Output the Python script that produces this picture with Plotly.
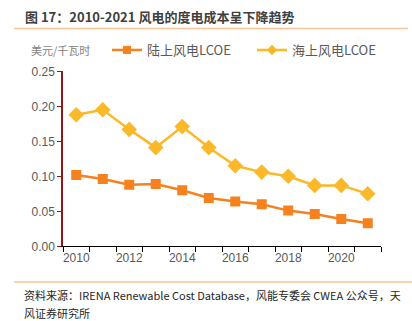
import plotly.graph_objects as go

years = list(range(2010, 2022))
onshore = [0.102, 0.096, 0.088, 0.089, 0.080, 0.069, 0.064, 0.060, 0.051, 0.046, 0.039, 0.033]
offshore = [0.188, 0.195, 0.167, 0.141, 0.171, 0.141, 0.115, 0.106, 0.100, 0.087, 0.087, 0.075]
xtick_vals = [2010, 2012, 2014, 2016, 2018, 2020]
ytick_vals = [0.0, 0.05, 0.10, 0.15, 0.20, 0.25]
names = ["陆上风电LCOE", "海上风电LCOE"]
colors = ["#F5821F", "#FBB829"]

W, H = 412, 321
CJK = "Noto Sans CJK SC"

fig = go.Figure()
fig.add_trace(go.Scatter(
    x=years, y=onshore, name=names[0], mode="lines+markers", showlegend=False,
    line=dict(color=colors[0], width=2.5),
    marker=dict(symbol="square", size=10, color=colors[0]),
))
fig.add_trace(go.Scatter(
    x=years, y=offshore, name=names[1], mode="lines+markers", showlegend=False,
    line=dict(color=colors[1], width=2.5),
    marker=dict(symbol="diamond", size=12, color=colors[1]),
))
# legend-only entries with small markers
fig.add_trace(go.Scatter(
    x=[None], y=[None], name=names[0], mode="lines+markers", legend="legend",
    line=dict(color=colors[0], width=2.5),
    marker=dict(symbol="square", size=8, color=colors[0]),
))
fig.add_trace(go.Scatter(
    x=[None], y=[None], name=names[1], mode="lines+markers", legend="legend2",
    line=dict(color=colors[1], width=2.5),
    marker=dict(symbol="diamond", size=8, color=colors[1]),
))

def px(x):
    return x / W

def py(y):
    return 1 - y / H

legend_common = dict(
    orientation="h", y=py(50), xanchor="left", yanchor="middle",
    font=dict(size=13, color="#595959", family=CJK),
    bgcolor="rgba(0,0,0,0)", itemwidth=30,
)

fig.update_layout(
    width=W, height=H,
    margin=dict(l=0, r=0, t=0, b=0, pad=0, autoexpand=False),
    paper_bgcolor="white", plot_bgcolor="white",
    font=dict(family=CJK, color="#595959"),
    showlegend=True,
    legend=dict(x=px(107), **legend_common),
    legend2=dict(x=px(252), **legend_common),
    xaxis=dict(
        domain=[px(63), px(381)], range=[2009.5, 2021.5], automargin=False,
        tickvals=xtick_vals, ticks="", showgrid=False, zeroline=False,
        showline=True, linecolor="#000000", linewidth=1,
        tickfont=dict(size=12, color="#595959", family="Liberation Sans"),
        minor=dict(tick0=2009.5, dtick=1, ticks="outside", ticklen=5,
                   tickcolor="#000000", showgrid=False),
        fixedrange=True,
    ),
    yaxis=dict(
        domain=[py(246.3), py(71.3)], range=[0, 0.25], automargin=False,
        tickvals=ytick_vals, tickformat=".2f", ticks="outside", ticklen=4,
        tickcolor="#8B1A1A", showline=True, linecolor="#8B1A1A", linewidth=1.5,
        showgrid=False, zeroline=False,
        tickfont=dict(size=12, color="#595959", family="Liberation Sans"),
        fixedrange=True,
    ),
)

# title
fig.add_annotation(
    text="<b>图 17：2010-2021 风电的度电成本呈下降趋势</b>",
    xref="paper", yref="paper", x=px(23), y=py(16), xanchor="left", yanchor="middle",
    showarrow=False, font=dict(size=13, color="#404040", family=CJK),
)
fig.add_shape(type="line", xref="paper", yref="paper",
              x0=px(14), x1=px(408), y0=py(28.5), y1=py(28.5),
              line=dict(color="#F8C49A", width=1.5))
# unit label
fig.add_annotation(
    text="美元/千瓦时", xref="paper", yref="paper", x=px(29), y=py(50),
    xanchor="left", yanchor="middle", showarrow=False,
    font=dict(size=11, color="#7F7F7F", family=CJK),
)
# footer
fig.add_shape(type="line", xref="paper", yref="paper",
              x0=px(14), x1=px(412), y0=py(282), y1=py(282),
              line=dict(color="#EDA768", width=1.2))
fig.add_annotation(
    text="资料来源：IRENA Renewable Cost Database，风能专委会 CWEA 公众号，天",
    xref="paper", yref="paper", x=px(22), y=py(295), xanchor="left", yanchor="middle",
    showarrow=False, font=dict(size=11, color="#262626", family=CJK),
)
fig.add_annotation(
    text="风证券研究所",
    xref="paper", yref="paper", x=px(22), y=py(313), xanchor="left", yanchor="middle",
    showarrow=False, font=dict(size=11, color="#262626", family=CJK),
)

fig.write_html("out.html")
